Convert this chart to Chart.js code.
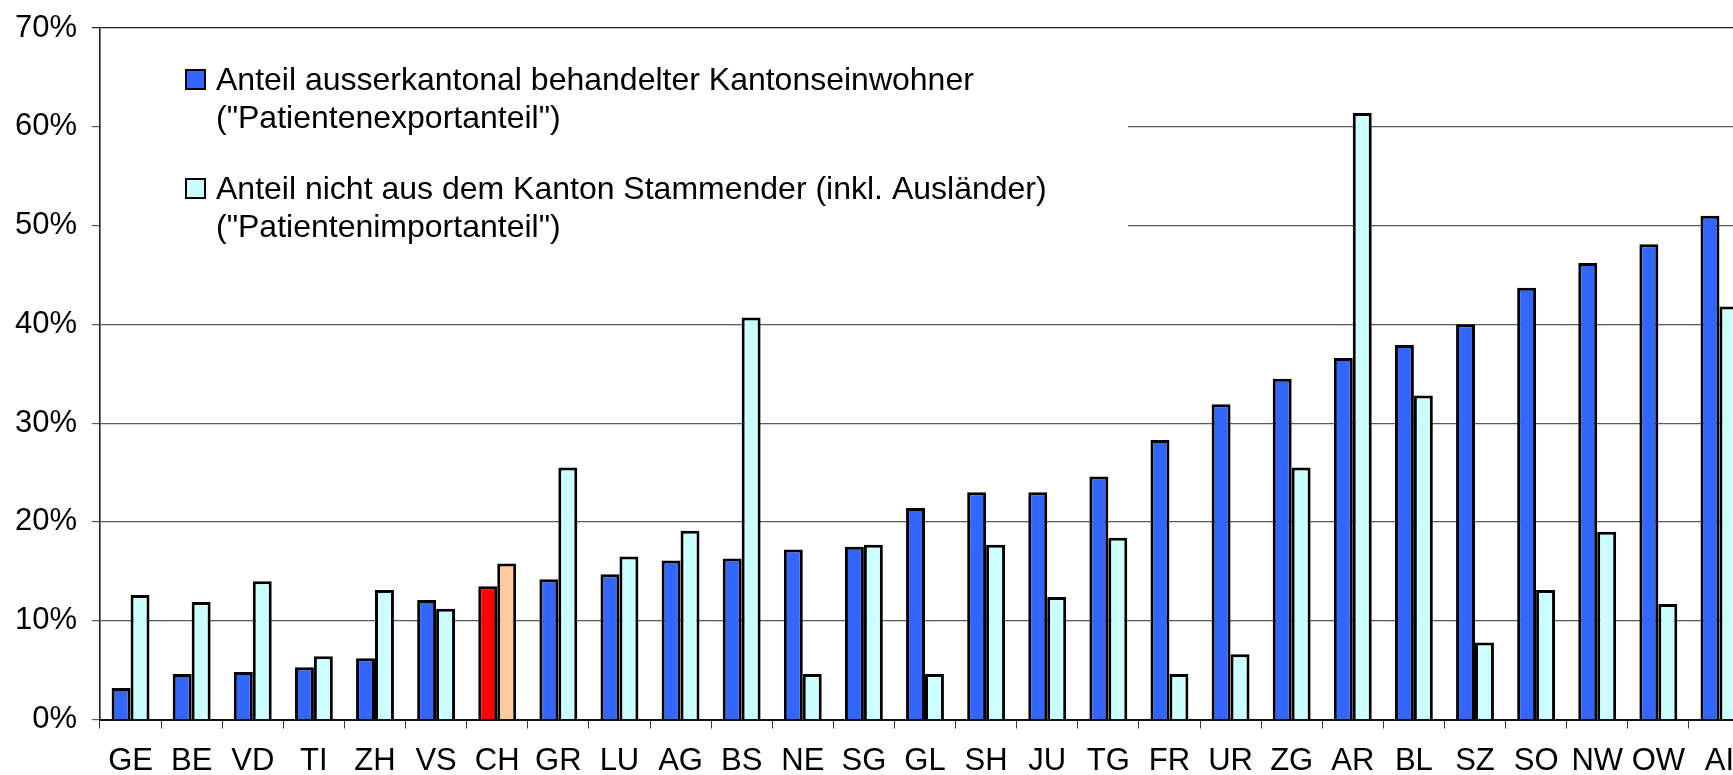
<!DOCTYPE html>
<html>
<head>
<meta charset="utf-8">
<script src="https://cdn.jsdelivr.net/npm/chart.js@4/dist/chart.umd.min.js"></script>
<style>
  html, body { margin: 0; padding: 0; background: #fff; overflow: hidden; }
  #wrap { width: 1752px; height: 775px; }
</style>
</head>
<body>
<div id="wrap"><canvas id="chart" width="1752" height="775"></canvas></div>
<script>
// Kantone, sortiert nach Patientenexportanteil
const categories = ['GE', 'BE', 'VD', 'TI', 'ZH', 'VS', 'CH', 'GR', 'LU', 'AG', 'BS', 'NE', 'SG', 'GL',
  'SH', 'JU', 'TG', 'FR', 'UR', 'ZG', 'AR', 'BL', 'SZ', 'SO', 'NW', 'OW', 'AI'];

// Anteil ausserkantonal behandelter Kantonseinwohner (%)
const exportShare = [3.2, 4.6, 4.8, 5.3, 6.2, 12.1, 13.5, 14.2, 14.7, 16.1, 16.3, 17.2, 17.5, 21.4,
  23.0, 23.0, 24.6, 28.3, 31.9, 34.5, 36.6, 37.9, 40.0, 43.7, 46.2, 48.1, 51.0];

// Anteil nicht aus dem Kanton Stammender (%)
const importShare = [12.6, 11.9, 14.0, 6.4, 13.1, 11.2, 15.8, 25.5, 16.5, 19.1, 40.7, 4.6, 17.7, 4.6,
  17.7, 12.4, 18.4, 4.6, 6.6, 25.5, 61.4, 32.8, 7.8, 13.1, 19.0, 11.7, 41.8];

const yTicks = [0, 10, 20, 30, 40, 50, 60, 70];

const legendLines = [
  ['Anteil ausserkantonal behandelter Kantonseinwohner', '("Patientenexportanteil")'],
  ['Anteil nicht aus dem Kanton Stammender (inkl. Ausländer)', '("Patientenimportanteil")']
];

const colors = {
  blue: '#3366FF',
  cyan: '#CCFFFF',
  red: '#FF0000',
  peach: '#FFCC99',
  grid: '#5A5A5A'
};

const FONT = '"Liberation Sans", Arial, Helvetica, sans-serif';

const exportColors = categories.map(c => c === 'CH' ? colors.red : colors.blue);
const importColors = categories.map(c => c === 'CH' ? colors.peach : colors.cyan);

// legend inside the plot, on a white box that hides the grid lines
const boxLegend = {
  id: 'boxLegend',
  beforeDatasetsDraw(chart) {
    const { ctx, chartArea } = chart;
    const left = chartArea.left;
    const top = chartArea.top;
    ctx.save();
    ctx.fillStyle = '#fff';
    ctx.fillRect(left + 1, top + 12, 1027, 212);

    const swatch = [colors.blue, colors.cyan];
    const blockTop = [42, 151];
    ctx.font = '32px ' + FONT;
    ctx.textAlign = 'left';
    ctx.textBaseline = 'alphabetic';
    legendLines.forEach((lines, i) => {
      const y0 = top + blockTop[i];
      ctx.fillStyle = swatch[i];
      ctx.fillRect(left + 86, y0, 19, 19);
      ctx.strokeStyle = '#000';
      ctx.lineWidth = 2;
      ctx.strokeRect(left + 86, y0, 19, 19);
      ctx.fillStyle = '#000';
      lines.forEach((t, j) => {
        ctx.fillText(t, left + 116, y0 + 20 + j * 38.4);
      });
    });
    ctx.restore();
  }
};

new Chart(document.getElementById('chart'), {
  type: 'bar',
  data: {
    labels: categories,
    datasets: [
      {
        label: legendLines[0].join(' '),
        data: exportShare,
        backgroundColor: exportColors,
        borderColor: '#000',
        borderWidth: 3
      },
      {
        label: legendLines[1].join(' '),
        data: importShare,
        backgroundColor: importColors,
        borderColor: '#000',
        borderWidth: 3
      }
    ]
  },
  options: {
    responsive: false,
    animation: false,
    layout: { padding: { top: 28, right: 2, bottom: 0, left: 0 } },
    datasets: { bar: { categoryPercentage: 0.62, barPercentage: 1.0 } },
    plugins: { legend: { display: false }, tooltip: { enabled: false } },
    scales: {
      x: {
        grid: { display: true, drawOnChartArea: false, drawTicks: true, tickLength: 9, color: '#333', offset: true },
        border: { display: true, color: '#111', width: 2 },
        ticks: { color: '#000', padding: 14, font: { family: FONT, size: 31 }, maxRotation: 0, autoSkip: false },
        afterFit(scale) { scale.height = 55.5; }
      },
      y: {
        min: 0,
        max: 70,
        afterBuildTicks(scale) { scale.ticks = yTicks.map(v => ({ value: v })); },
        grid: {
          color: ctx => ctx.tick && ctx.tick.value === 70 ? '#222' : colors.grid,
          lineWidth: 1.2,
          tickLength: 8
        },
        border: { display: true, color: '#222', width: 1.6 },
        ticks: {
          color: '#000',
          padding: 15,
          font: { family: FONT, size: 31 },
          callback: v => v + '%'
        },
        afterFit(scale) {
          scale.width = 100;
          scale.paddingTop = 0;
          scale.paddingBottom = 0;
        }
      }
    }
  },
  plugins: [boxLegend]
});
</script>
</body>
</html>
